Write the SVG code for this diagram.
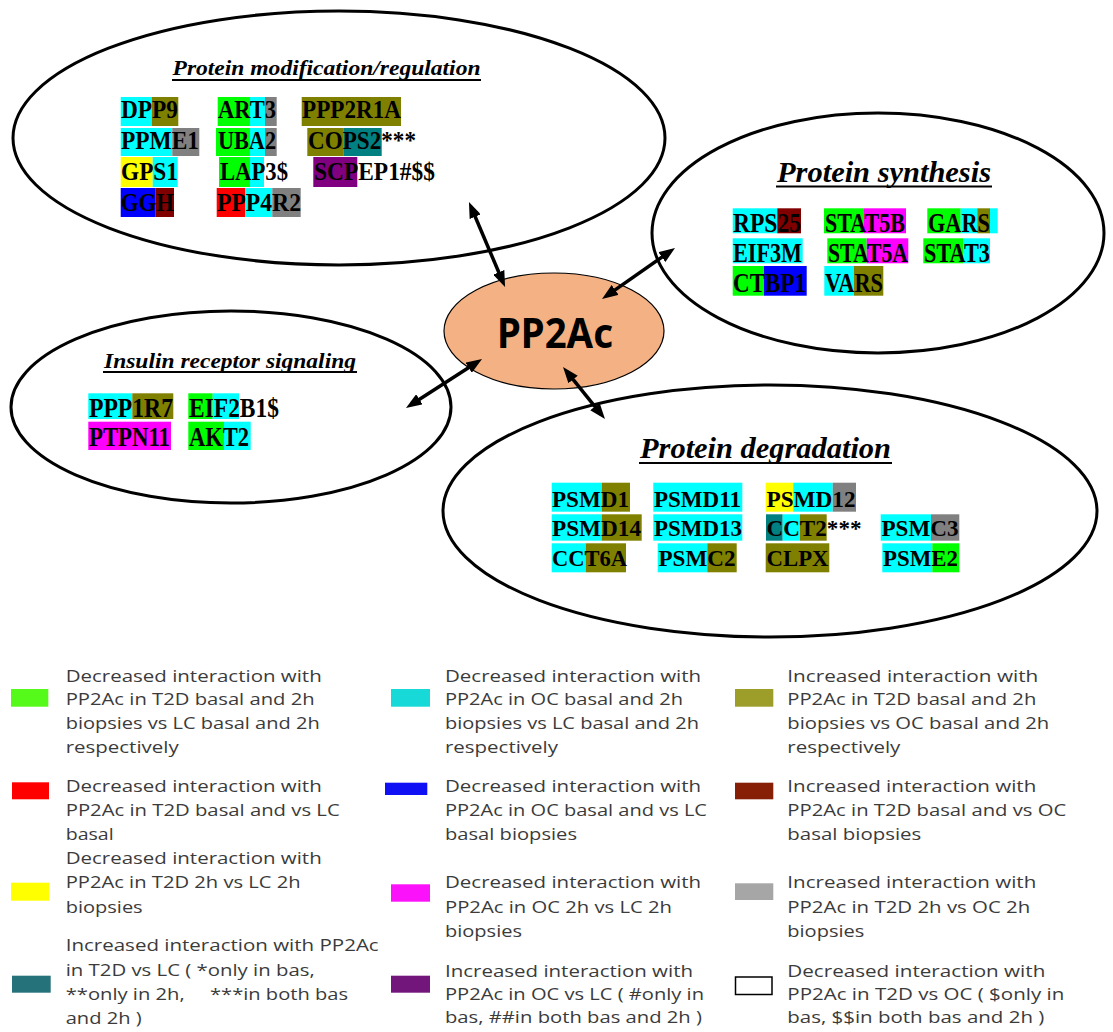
<svg xmlns="http://www.w3.org/2000/svg" width="1113" height="1032" viewBox="0 0 1113 1032">
<style>
.el{fill:none;stroke:#000;stroke-width:3}
.core{fill:#f4b183;stroke:#000;stroke-width:1.2}
.g{font-family:"Liberation Serif","Times New Roman",serif;font-weight:bold;fill:#000}
.g25{font-size:26px}.g26{font-size:27px}.g23{font-size:24px}
.ti{font-family:"Liberation Serif","Times New Roman",serif;font-weight:bold;font-style:italic;fill:#000}
.ul{stroke:#000;stroke-width:1.8}
.lg{font-family:"Open Sans","Liberation Sans",sans-serif;font-size:16.5px;fill:#3b3b3b}
.arr{stroke:#000;stroke-width:3.5;fill:none;marker-start:url(#ah);marker-end:url(#ah)}
.cy{fill:#00ffff}.ol{fill:#808000}.gy{fill:#808080}.gr{fill:#00ff00}.tl{fill:#008080}
.ye{fill:#ffff00}.pu{fill:#800080}.bl{fill:#0000ff}.mr{fill:#800000}.rd{fill:#ff0000}.mg{fill:#ff00ff}
</style>
<defs>
<marker id="ah" viewBox="0 0 16 12" refX="10" refY="6" markerWidth="16" markerHeight="12" markerUnits="userSpaceOnUse" orient="auto-start-reverse">
<path d="M0,0 L16,6 L0,12 Z" fill="#000"/>
</marker>
</defs>
<rect width="1113" height="1032" fill="#fff"/>

<g id="protein-modification">
<ellipse class="el" cx="339" cy="138" rx="326" ry="127"/>
<text class="ti" x="172.5" y="75" font-size="22" textLength="308" lengthAdjust="spacingAndGlyphs">Protein modification/regulation</text>
<line class="ul" x1="172" y1="80" x2="481" y2="80"/>
<g id="DPP9"><rect class="cy" x="120.7" y="97" width="31" height="29"/><rect class="ol" x="151.7" y="97" width="26.6" height="29"/><text class="g g25" x="121" y="118" textLength="57" lengthAdjust="spacingAndGlyphs">DPP9</text></g>
<g id="ART3"><rect class="gr" x="217.7" y="97" width="32.3" height="29"/><rect class="cy" x="250" y="97" width="15" height="29"/><rect class="gy" x="265" y="97" width="11.7" height="29"/><text class="g g25" x="218" y="118" textLength="58" lengthAdjust="spacingAndGlyphs">ART3</text></g>
<g id="PPP2R1A"><rect class="ol" x="301.7" y="97" width="99.3" height="29"/><text class="g g25" x="302" y="118" textLength="99" lengthAdjust="spacingAndGlyphs">PPP2R1A</text></g>
<g id="PPME1"><rect class="cy" x="120.7" y="128" width="51.6" height="28"/><rect class="gy" x="172.3" y="128" width="27" height="28"/><text class="g g25" x="121" y="148.5" textLength="78" lengthAdjust="spacingAndGlyphs">PPME1</text></g>
<g id="UBA2"><rect class="gr" x="216" y="128" width="34" height="28"/><rect class="cy" x="250" y="128" width="15" height="28"/><rect class="gy" x="265" y="128" width="11.7" height="28"/><text class="g g25" x="218" y="148.5" textLength="58" lengthAdjust="spacingAndGlyphs">UBA2</text></g>
<g id="COPS2"><rect class="ol" x="307.3" y="128" width="36" height="28"/><rect class="tl" x="343.3" y="128" width="38.4" height="28"/><text class="g g25" x="308" y="148.5" textLength="108" lengthAdjust="spacingAndGlyphs">COPS2***</text></g>
<g id="GPS1"><rect class="ye" x="120.7" y="157" width="32" height="30"/><rect class="cy" x="152.7" y="157" width="25" height="30"/><text class="g g25" x="121" y="180" textLength="57" lengthAdjust="spacingAndGlyphs">GPS1</text></g>
<g id="LAP3"><rect class="gr" x="219" y="157" width="31" height="30"/><rect class="cy" x="250" y="157" width="14" height="30"/><text class="g g25" x="220" y="180" textLength="68" lengthAdjust="spacingAndGlyphs">LAP3$</text></g>
<g id="SCPEP1"><rect class="pu" x="313.3" y="157" width="44" height="30"/><text class="g g25" x="314" y="180" textLength="121" lengthAdjust="spacingAndGlyphs">SCPEP1#$$</text></g>
<g id="GGH"><rect class="bl" x="120.7" y="188" width="35" height="29"/><rect class="mr" x="155.7" y="188" width="18.3" height="29"/><text class="g g25" x="121" y="211" textLength="53" lengthAdjust="spacingAndGlyphs">GGH</text></g>
<g id="PPP4R2"><rect class="rd" x="216.7" y="188" width="28.3" height="29"/><rect class="cy" x="245" y="188" width="27.3" height="29"/><rect class="gy" x="272.3" y="188" width="28.4" height="29"/><text class="g g25" x="217" y="211" textLength="84" lengthAdjust="spacingAndGlyphs">PPP4R2</text></g>
</g>

<g id="protein-synthesis">
<ellipse class="el" cx="878" cy="233" rx="226" ry="120"/>
<text class="ti" x="777" y="182" font-size="29" textLength="214" lengthAdjust="spacingAndGlyphs">Protein synthesis</text>
<line class="ul" x1="776" y1="186.5" x2="992" y2="186.5"/>
<g id="RPS25"><rect class="cy" x="732.7" y="208.3" width="44.6" height="25"/><rect class="mr" x="777.3" y="208.3" width="23.7" height="25"/><text class="g g26" x="733" y="232" textLength="68" lengthAdjust="spacingAndGlyphs">RPS25</text></g>
<g id="STAT5B"><rect class="gr" x="824" y="208.3" width="40" height="25"/><rect class="mg" x="864" y="208.3" width="42" height="25"/><text class="g g26" x="825" y="232" textLength="80" lengthAdjust="spacingAndGlyphs">STAT5B</text></g>
<g id="GARS"><rect class="gr" x="927.3" y="208.3" width="33.4" height="25"/><rect class="cy" x="960.7" y="208.3" width="16.6" height="25"/><rect class="ol" x="977.3" y="208.3" width="12.7" height="25"/><rect class="cy" x="990" y="208.3" width="7.7" height="25"/><text class="g g26" x="928" y="232" textLength="62" lengthAdjust="spacingAndGlyphs">GARS</text></g>
<g id="EIF3M"><rect class="cy" x="732.7" y="238.3" width="70" height="25"/><text class="g g26" x="733" y="262" textLength="69" lengthAdjust="spacingAndGlyphs">EIF3M</text></g>
<g id="STAT5A"><rect class="gr" x="827.3" y="238.3" width="39.4" height="25"/><rect class="mg" x="866.7" y="238.3" width="41.6" height="25"/><text class="g g26" x="828" y="262" textLength="80" lengthAdjust="spacingAndGlyphs">STAT5A</text></g>
<g id="STAT3"><rect class="gr" x="923.3" y="238.3" width="40" height="25"/><rect class="cy" x="963.3" y="238.3" width="26.7" height="25"/><text class="g g26" x="924" y="262" textLength="66" lengthAdjust="spacingAndGlyphs">STAT3</text></g>
<g id="CTBP1"><rect class="gr" x="732.7" y="266" width="31.3" height="29.7"/><rect class="bl" x="764" y="266" width="42.7" height="29.7"/><text class="g g26" x="733" y="291.5" textLength="73" lengthAdjust="spacingAndGlyphs">CTBP1</text></g>
<g id="VARS"><rect class="cy" x="824.3" y="266" width="29.7" height="29.7"/><rect class="ol" x="854" y="266" width="29.3" height="29.7"/><text class="g g26" x="825" y="291.5" textLength="58" lengthAdjust="spacingAndGlyphs">VARS</text></g>
</g>

<g id="insulin-receptor-signaling">
<ellipse class="el" cx="231" cy="407" rx="220" ry="96"/>
<text class="ti" x="104" y="368" font-size="21" textLength="252" lengthAdjust="spacingAndGlyphs">Insulin receptor signaling</text>
<line class="ul" x1="103" y1="372" x2="357" y2="372"/>
<g id="PPP1R7"><rect class="cy" x="88.3" y="393.3" width="44" height="25.7"/><rect class="ol" x="132.3" y="393.3" width="41" height="25.7"/><text class="g g26" x="89" y="416.5" textLength="84" lengthAdjust="spacingAndGlyphs">PPP1R7</text></g>
<g id="EIF2B1"><rect class="gr" x="188.3" y="393.3" width="24.4" height="25.7"/><rect class="cy" x="212.7" y="393.3" width="26.3" height="25.7"/><text class="g g26" x="189" y="416.5" textLength="90" lengthAdjust="spacingAndGlyphs">EIF2B1$</text></g>
<g id="PTPN11"><rect class="mg" x="88.3" y="421.7" width="82.7" height="28.3"/><text class="g g26" x="89" y="446" textLength="81" lengthAdjust="spacingAndGlyphs">PTPN11</text></g>
<g id="AKT2"><rect class="gr" x="188.3" y="421.7" width="35.7" height="28.3"/><rect class="cy" x="224" y="421.7" width="26.7" height="28.3"/><text class="g g26" x="189" y="446" textLength="60" lengthAdjust="spacingAndGlyphs">AKT2</text></g>
</g>

<g id="protein-degradation">
<ellipse class="el" cx="770" cy="511" rx="327" ry="126"/>
<text class="ti" x="640" y="458" font-size="29" textLength="251" lengthAdjust="spacingAndGlyphs">Protein degradation</text>
<line class="ul" x1="639" y1="463" x2="892" y2="463"/>
<g id="PSMD1"><rect class="cy" x="551.7" y="482.7" width="50" height="29"/><rect class="ol" x="601.7" y="482.7" width="28.3" height="29"/><text class="g g23" x="552" y="506.5" textLength="77" lengthAdjust="spacingAndGlyphs">PSMD1</text></g>
<g id="PSMD11"><rect class="cy" x="653.3" y="482.7" width="89" height="29"/><text class="g g23" x="654" y="506.5" textLength="87" lengthAdjust="spacingAndGlyphs">PSMD11</text></g>
<g id="PSMD12"><rect class="ye" x="765.7" y="482.7" width="27.6" height="29"/><rect class="cy" x="793.3" y="482.7" width="39.4" height="29"/><rect class="gy" x="832.7" y="482.7" width="23.3" height="29"/><text class="g g23" x="766.5" y="506.5" textLength="89" lengthAdjust="spacingAndGlyphs">PSMD12</text></g>
<g id="PSMD14"><rect class="cy" x="551.7" y="514.3" width="50" height="26.4"/><rect class="ol" x="601.7" y="514.3" width="40" height="26.4"/><text class="g g23" x="552" y="535.5" textLength="89" lengthAdjust="spacingAndGlyphs">PSMD14</text></g>
<g id="PSMD13"><rect class="cy" x="653.3" y="514.3" width="89" height="26.4"/><text class="g g23" x="654" y="535.5" textLength="88" lengthAdjust="spacingAndGlyphs">PSMD13</text></g>
<g id="CCT2"><rect class="tl" x="766" y="514.3" width="16.7" height="26.4"/><rect class="cy" x="782.7" y="514.3" width="17.3" height="26.4"/><rect class="ol" x="800" y="514.3" width="26.7" height="26.4"/><text class="g g23" x="766.5" y="535.5" textLength="95" lengthAdjust="spacingAndGlyphs">CCT2***</text></g>
<g id="PSMC3"><rect class="cy" x="880.7" y="514.3" width="50.3" height="26.4"/><rect class="gy" x="931" y="514.3" width="28.3" height="26.4"/><text class="g g23" x="881.5" y="535.5" textLength="77" lengthAdjust="spacingAndGlyphs">PSMC3</text></g>
<g id="CCT6A"><rect class="cy" x="551.7" y="543.3" width="34" height="29"/><rect class="ol" x="585.7" y="543.3" width="40.3" height="29"/><text class="g g23" x="552" y="565.5" textLength="75" lengthAdjust="spacingAndGlyphs">CCT6A</text></g>
<g id="PSMC2"><rect class="cy" x="657.7" y="543.3" width="49.6" height="29"/><rect class="ol" x="707.3" y="543.3" width="29.4" height="29"/><text class="g g23" x="658.5" y="565.5" textLength="77" lengthAdjust="spacingAndGlyphs">PSMC2</text></g>
<g id="CLPX"><rect class="ol" x="765.7" y="543.3" width="63.6" height="29"/><text class="g g23" x="766.5" y="565.5" textLength="62" lengthAdjust="spacingAndGlyphs">CLPX</text></g>
<g id="PSME2"><rect class="cy" x="882.3" y="543.3" width="50" height="29"/><rect class="gr" x="932.3" y="543.3" width="27" height="29"/><text class="g g23" x="883" y="565.5" textLength="75" lengthAdjust="spacingAndGlyphs">PSME2</text></g>
</g>

<g id="PP2Ac">
<ellipse class="core" cx="554" cy="331" rx="110" ry="58"/>
<text x="497" y="348" font-family="'Noto Sans','Open Sans',sans-serif" font-weight="bold" font-size="42" textLength="116" lengthAdjust="spacingAndGlyphs" fill="#000">PP2Ac</text>
</g>

<g id="connectors">
<line class="arr" x1="471.3" y1="207.5" x2="502.7" y2="281.5"/>
<line class="arr" x1="606.9" y1="295.6" x2="670.1" y2="251.4"/>
<line class="arr" x1="411" y1="404.7" x2="477" y2="362.3"/>
<line class="arr" x1="566.8" y1="371.7" x2="601.2" y2="414.3"/>
</g>

<g id="legend">
<g id="leg-green"><rect x="11" y="689" width="37.3" height="17.7" fill="#55f91a"/>
<text class="lg" x="65.7" y="681.7" textLength="256" lengthAdjust="spacingAndGlyphs">Decreased interaction with</text>
<text class="lg" x="65.7" y="705.3" textLength="249" lengthAdjust="spacingAndGlyphs">PP2Ac in T2D basal and 2h</text>
<text class="lg" x="65.7" y="729.3" textLength="254" lengthAdjust="spacingAndGlyphs">biopsies vs LC basal and 2h</text>
<text class="lg" x="65.7" y="753.3" textLength="113" lengthAdjust="spacingAndGlyphs">respectively</text></g>
<g id="leg-red"><rect x="12" y="782.3" width="37" height="17" fill="#fe0000"/>
<text class="lg" x="65.7" y="791.7" textLength="256" lengthAdjust="spacingAndGlyphs">Decreased interaction with</text>
<text class="lg" x="65.7" y="815.7" textLength="274" lengthAdjust="spacingAndGlyphs">PP2Ac in T2D basal and vs LC</text>
<text class="lg" x="65.7" y="840" textLength="48" lengthAdjust="spacingAndGlyphs">basal</text></g>
<g id="leg-yellow"><rect x="11" y="882.7" width="38" height="18" fill="#ffff00"/>
<text class="lg" x="65.7" y="864.3" textLength="256" lengthAdjust="spacingAndGlyphs">Decreased interaction with</text>
<text class="lg" x="65.7" y="888.3" textLength="235" lengthAdjust="spacingAndGlyphs">PP2Ac in T2D 2h vs LC 2h</text>
<text class="lg" x="65.7" y="912.7" textLength="77" lengthAdjust="spacingAndGlyphs">biopsies</text></g>
<g id="leg-teal"><rect x="12" y="975.7" width="38.7" height="17" fill="#26727b"/>
<text class="lg" x="65.7" y="951" textLength="313" lengthAdjust="spacingAndGlyphs">Increased interaction with PP2Ac</text>
<text class="lg" x="65.7" y="975.7" textLength="249" lengthAdjust="spacingAndGlyphs">in T2D vs LC ( *only in bas,</text>
<text class="lg" x="65.7" y="1000" textLength="119" lengthAdjust="spacingAndGlyphs">**only in 2h,</text>
<text class="lg" x="210" y="1000" textLength="138" lengthAdjust="spacingAndGlyphs">***in both bas</text>
<text class="lg" x="65.7" y="1024" textLength="76" lengthAdjust="spacingAndGlyphs">and 2h )</text></g>

<g id="leg-cyan"><rect x="391" y="689" width="39" height="17.7" fill="#17d9d8"/>
<text class="lg" x="445" y="681.7" textLength="256" lengthAdjust="spacingAndGlyphs">Decreased interaction with</text>
<text class="lg" x="445" y="705.3" textLength="238" lengthAdjust="spacingAndGlyphs">PP2Ac in OC basal and 2h</text>
<text class="lg" x="445" y="729.3" textLength="254" lengthAdjust="spacingAndGlyphs">biopsies vs LC basal and 2h</text>
<text class="lg" x="445" y="753.3" textLength="113" lengthAdjust="spacingAndGlyphs">respectively</text></g>
<g id="leg-blue"><rect x="385" y="782.7" width="42.3" height="12.3" fill="#1010f4"/>
<text class="lg" x="445" y="791.7" textLength="256" lengthAdjust="spacingAndGlyphs">Decreased interaction with</text>
<text class="lg" x="445" y="815.7" textLength="262" lengthAdjust="spacingAndGlyphs">PP2Ac in OC basal and vs LC</text>
<text class="lg" x="445" y="840" textLength="132" lengthAdjust="spacingAndGlyphs">basal biopsies</text></g>
<g id="leg-magenta"><rect x="391" y="884.3" width="39" height="17.4" fill="#fb12fb"/>
<text class="lg" x="445" y="888.3" textLength="256" lengthAdjust="spacingAndGlyphs">Decreased interaction with</text>
<text class="lg" x="445" y="912.7" textLength="227" lengthAdjust="spacingAndGlyphs">PP2Ac in OC 2h vs LC 2h</text>
<text class="lg" x="445" y="936.7" textLength="77" lengthAdjust="spacingAndGlyphs">biopsies</text></g>
<g id="leg-purple"><rect x="391" y="975.7" width="39" height="17" fill="#73167b"/>
<text class="lg" x="445" y="976.7" textLength="248" lengthAdjust="spacingAndGlyphs">Increased interaction with</text>
<text class="lg" x="445" y="1000" textLength="259" lengthAdjust="spacingAndGlyphs">PP2Ac in OC vs LC ( #only in</text>
<text class="lg" x="445" y="1023.3" textLength="257" lengthAdjust="spacingAndGlyphs">bas, ##in both bas and 2h )</text></g>

<g id="leg-olive"><rect x="735" y="689" width="38.3" height="17.7" fill="#9d9d2a"/>
<text class="lg" x="787.3" y="681.7" textLength="251" lengthAdjust="spacingAndGlyphs">Increased interaction with</text>
<text class="lg" x="787.3" y="705.3" textLength="249" lengthAdjust="spacingAndGlyphs">PP2Ac in T2D basal and 2h</text>
<text class="lg" x="787.3" y="729.3" textLength="262" lengthAdjust="spacingAndGlyphs">biopsies vs OC basal and 2h</text>
<text class="lg" x="787.3" y="753.3" textLength="113" lengthAdjust="spacingAndGlyphs">respectively</text></g>
<g id="leg-darkred"><rect x="735" y="782.7" width="38.3" height="16.6" fill="#861f05"/>
<text class="lg" x="787.3" y="791.7" textLength="249" lengthAdjust="spacingAndGlyphs">Increased interaction with</text>
<text class="lg" x="787.3" y="815.7" textLength="279" lengthAdjust="spacingAndGlyphs">PP2Ac in T2D basal and vs OC</text>
<text class="lg" x="787.3" y="840" textLength="134" lengthAdjust="spacingAndGlyphs">basal biopsies</text></g>
<g id="leg-gray"><rect x="735" y="883.3" width="38.3" height="16.7" fill="#a6a6a6"/>
<text class="lg" x="787.3" y="888.3" textLength="249" lengthAdjust="spacingAndGlyphs">Increased interaction with</text>
<text class="lg" x="787.3" y="912.7" textLength="243" lengthAdjust="spacingAndGlyphs">PP2Ac in T2D 2h vs OC 2h</text>
<text class="lg" x="787.3" y="936.7" textLength="77" lengthAdjust="spacingAndGlyphs">biopsies</text></g>
<g id="leg-white"><rect x="735.5" y="977" width="36.5" height="17.5" fill="#fff" stroke="#000" stroke-width="1.5"/>
<text class="lg" x="787.3" y="976.7" textLength="258" lengthAdjust="spacingAndGlyphs">Decreased interaction with</text>
<text class="lg" x="787.3" y="1000" textLength="277" lengthAdjust="spacingAndGlyphs">PP2Ac in T2D vs OC ( $only in</text>
<text class="lg" x="787.3" y="1023.3" textLength="257" lengthAdjust="spacingAndGlyphs">bas, $$in both bas and 2h )</text></g>
</g>
</svg>
